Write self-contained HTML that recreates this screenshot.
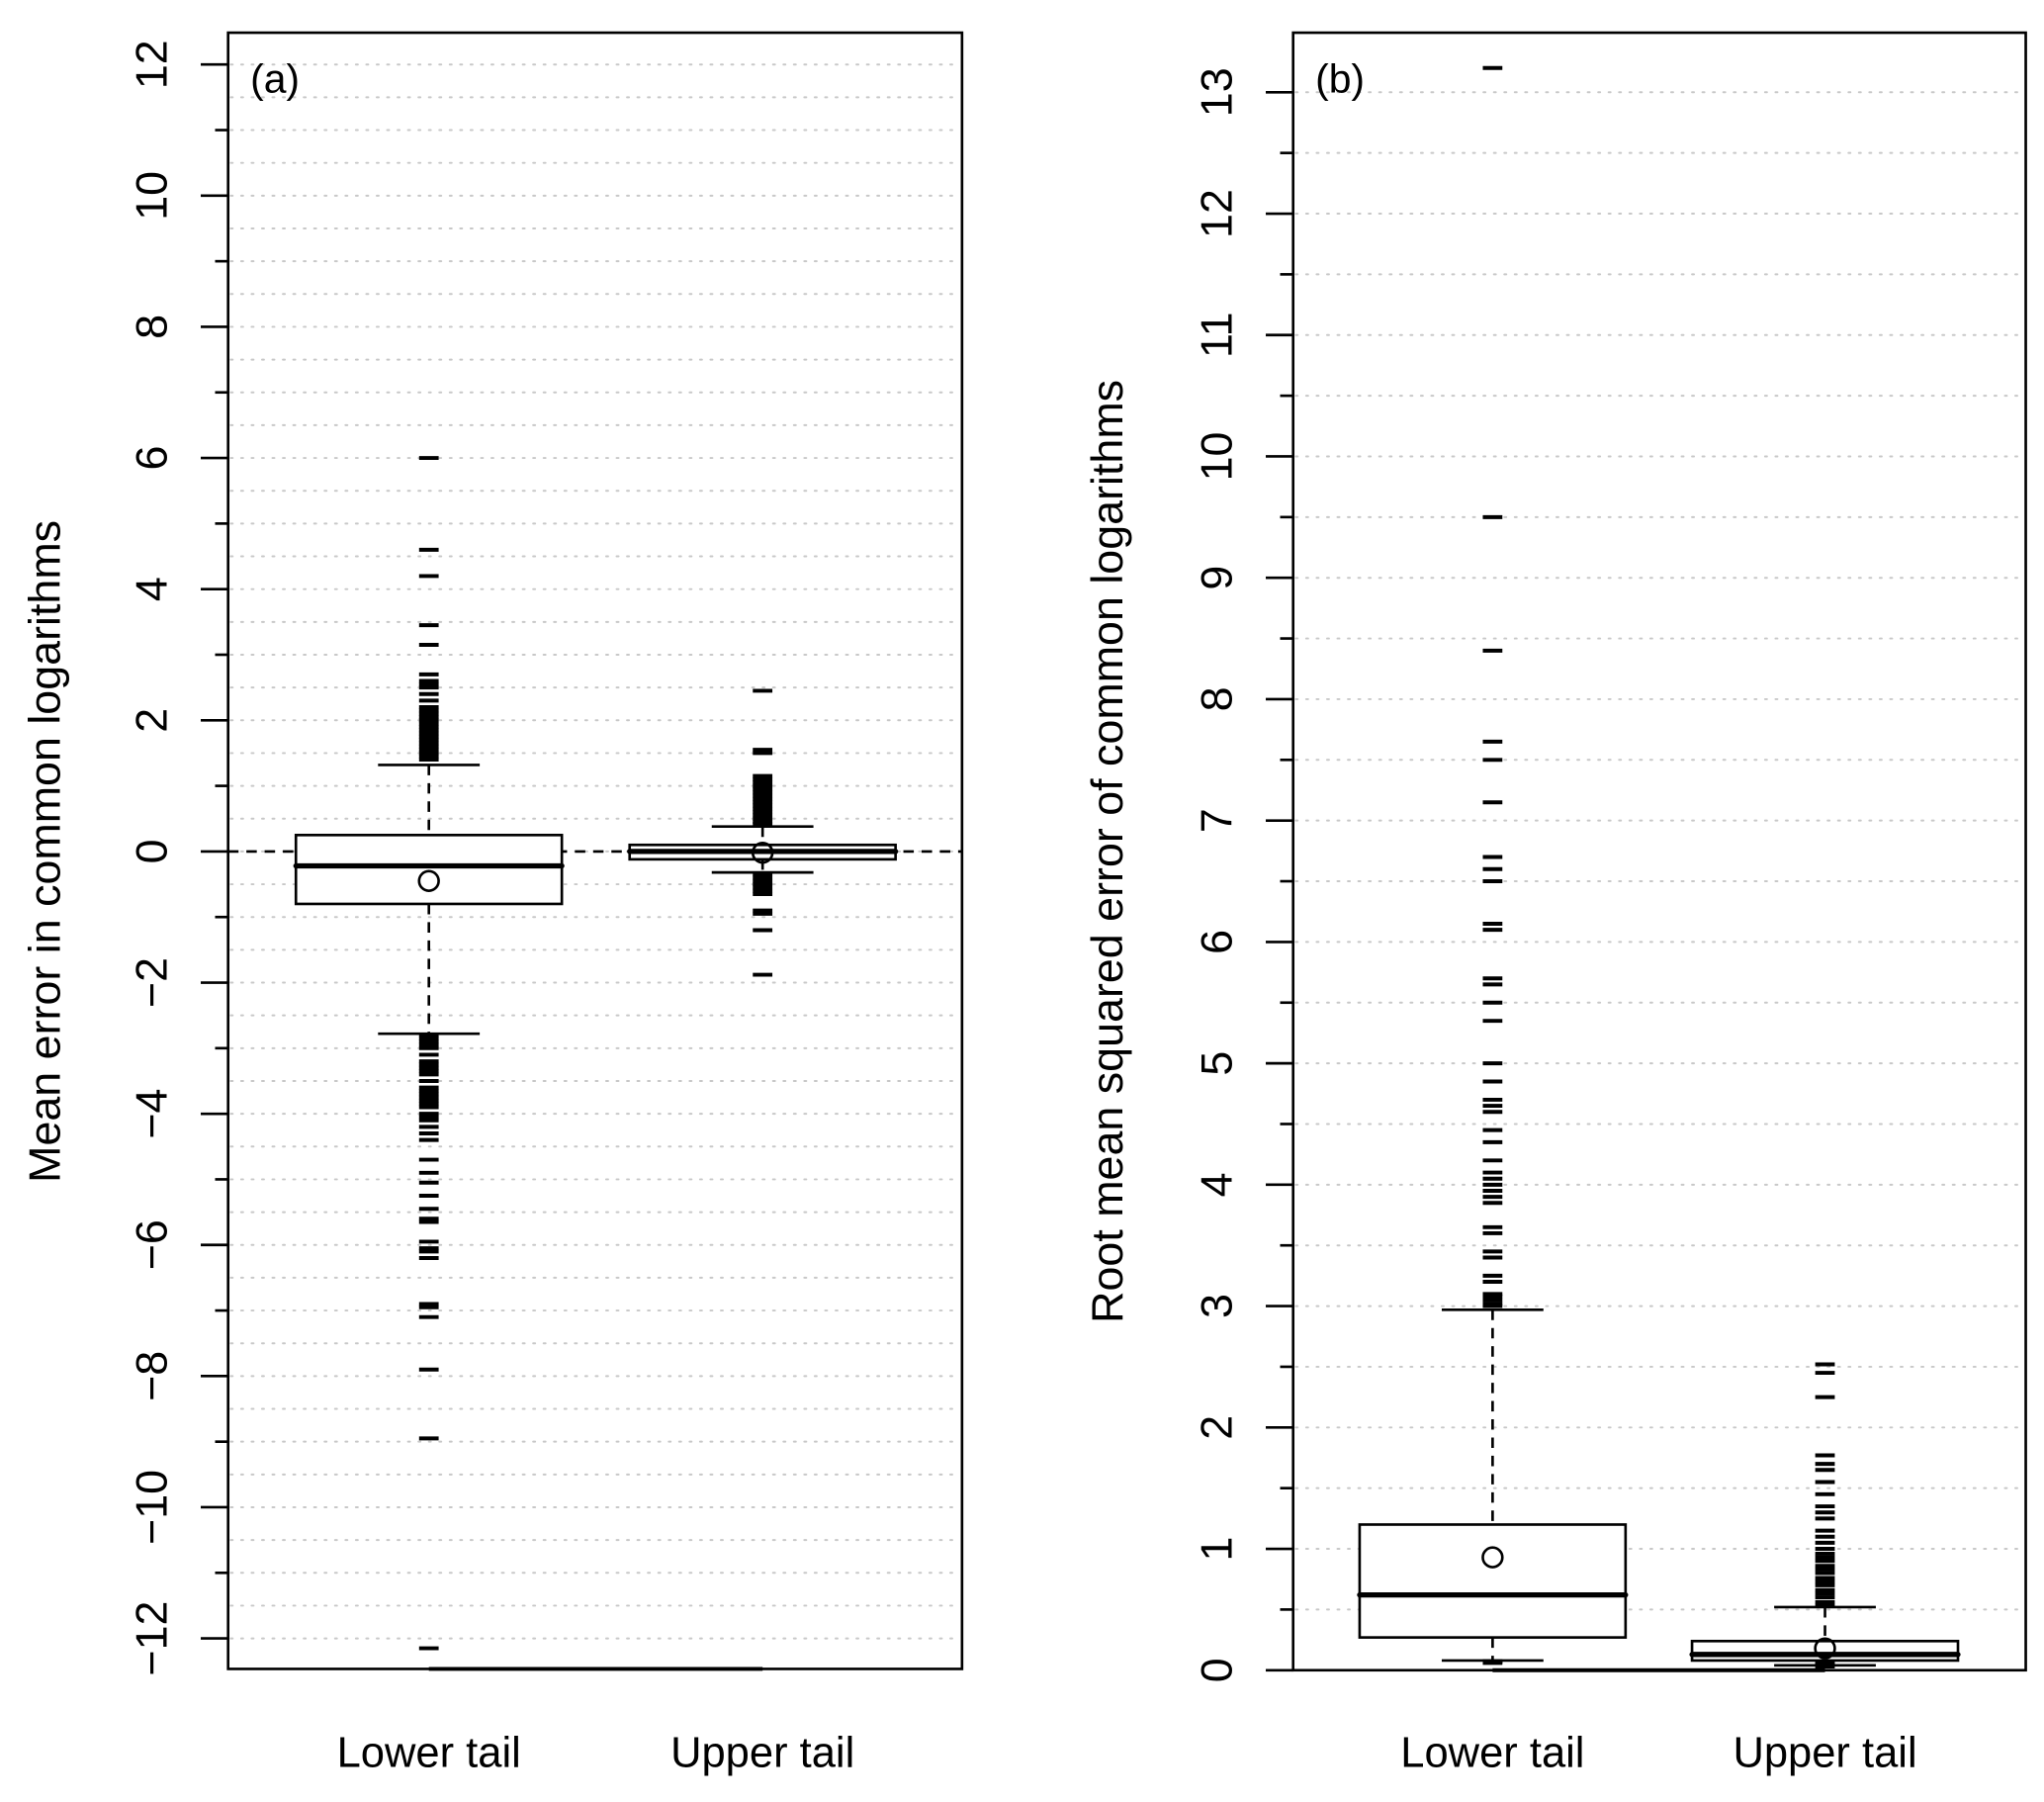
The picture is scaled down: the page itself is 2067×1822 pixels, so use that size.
<!DOCTYPE html>
<html><head><meta charset="utf-8"><style>
html,body{margin:0;padding:0;background:#fff}
svg{display:block}
text{font-family:"Liberation Sans",Arial,sans-serif;fill:#000}
</style></head><body>
<svg id="chart" width="2067" height="1822" viewBox="0 0 1568 1382" xmlns="http://www.w3.org/2000/svg"></svg>
<script>
// ---- Panel (a) data: mean error ----
const categories = ["Lower tail", "Upper tail"];
const aTicks = [-12, -10, -8, -6, -4, -2, 0, 2, 4, 6, 8, 10, 12];
const aLowerStats = [-2.78, -0.8, -0.22, 0.25, 1.32];   // whisker low, Q1, median, Q3, whisker high
const aLowerMean = [-0.45];
const aLowerOut = [1.4,1.45,1.5,1.55,1.6,1.65,1.7,1.75,1.8,1.85,1.9,1.95,2.0,2.05,2.1,2.15,2.2,2.3,2.4,2.5,2.55,2.6,2.7,3.15,3.45,4.2,4.6,6.0,
  -2.8,-2.85,-2.9,-2.95,-3.0,-3.1,-3.2,-3.25,-3.3,-3.35,-3.4,-3.5,-3.6,-3.65,-3.7,-3.75,-3.8,-3.85,-3.9,-4.0,-4.05,-4.1,-4.2,-4.3,-4.4,-4.7,-4.9,-5.05,-5.25,-5.45,-5.6,-5.65,-5.95,-6.05,-6.1,-6.2,-6.9,-6.95,-7.1,-7.9,-8.95,-12.15];
const aUpperStats = [-0.32, -0.12, 0.0, 0.1, 0.38];
const aUpperMean = [-0.02];
const aUpperOut = [0.42,0.45,0.5,0.55,0.6,0.65,0.7,0.75,0.8,0.85,0.9,0.95,1.0,1.05,1.1,1.15,1.5,1.55,2.45,
  -0.35,-0.4,-0.45,-0.5,-0.55,-0.6,-0.65,-0.9,-0.95,-1.2,-1.88];
// ---- Panel (b) data: RMSE ----
const bTicks = [0,1,2,3,4,5,6,7,8,9,10,11,12,13];
const bLowerStats = [0.08, 0.27, 0.62, 1.2, 2.97];
const bLowerMean = [0.93];
const bLowerOut = [0.06,0.07,0.075,3.0,3.02,3.05,3.08,3.1,3.2,3.25,3.4,3.45,3.6,3.65,3.85,3.9,3.95,4.0,4.05,4.1,4.2,4.35,4.45,4.6,4.65,4.7,4.85,5.0,5.35,5.5,5.65,5.7,6.1,6.15,6.5,6.6,6.7,7.15,7.5,7.65,8.4,9.5,13.2];
const bUpperStats = [0.04, 0.08, 0.13, 0.24, 0.52];
const bUpperMean = [0.18];
const bUpperOut = [0.03,0.05,0.06,0.53,0.56,0.6,0.63,0.66,0.7,0.73,0.76,0.8,0.83,0.86,0.9,0.93,0.96,1.0,1.05,1.1,1.15,1.25,1.3,1.35,1.45,1.55,1.65,1.7,1.77,2.25,2.45,2.52];

const NS = "http://www.w3.org/2000/svg";
const svg = document.getElementById("chart");
function mk(tag, attrs, parent) {
  const e = document.createElementNS(NS, tag);
  for (const k in attrs) e.setAttribute(k, attrs[k]);
  (parent || svg).appendChild(e);
  return e;
}

function panel(cfg) {
  const g = mk("g", {});
  
  
  const y = v => cfg.y0 - (v - cfg.v0) * cfg.unit;
  const L = cfg.left, R = cfg.right, T = 25, B = cfg.bottom;
  for (let v = cfg.gmin; v <= cfg.gmax + 1e-9; v += 0.5) {
    const gl = mk("line", {x1: L + 2, x2: R - 2, y1: y(v), y2: y(v), stroke: "#c8c8c8", "stroke-width": 1.5, "stroke-dasharray": "1.5 6.5", "stroke-linecap": "round"}, g);
    
    
  }
  for (let v = cfg.gmin; v <= cfg.gmax + 1e-9; v += cfg.minorStep) {
    const labeled = cfg.ticks.some(t => Math.abs(t - v) < 1e-9);
    const tk = mk("line", {x1: L - (labeled ? 21 : 10), x2: L, y1: y(v), y2: y(v), stroke: "#000", "stroke-width": 2}, g);
    
    
  }
  cfg.ticks.forEach(t => {
    const tx = mk("text", {x: 0, y: 0, "font-size": 34, "text-anchor": "middle", transform: `translate(${L - 47},${y(t)}) rotate(-90)`}, g);
    tx.textContent = t < 0 ? "\u2212" + Math.abs(t) : String(t);
    
    
  });
  if (cfg.zeroLine) {
    const zl = mk("line", {x1: L, x2: R, y1: y(0), y2: y(0), stroke: "#000", "stroke-width": 2, "stroke-dasharray": "8 6"}, g);
    
    
  }
  cfg.series.forEach((s, i) => {
    const cx = cfg.cx[i], hw = 102, cw = 39;
    const st = s.stats;
    const bg = mk("g", {}, g);
    
    
    mk("line", {x1: cx, x2: cx, y1: y(st[4]), y2: y(st[3]), stroke: "#000", "stroke-width": 2, "stroke-dasharray": "8 6"}, bg);
    mk("line", {x1: cx, x2: cx, y1: y(st[1]), y2: y(st[0]), stroke: "#000", "stroke-width": 2, "stroke-dasharray": "8 6"}, bg);
    mk("line", {x1: cx - cw, x2: cx + cw, y1: y(st[4]), y2: y(st[4]), stroke: "#000", "stroke-width": 2}, bg);
    mk("line", {x1: cx - cw, x2: cx + cw, y1: y(st[0]), y2: y(st[0]), stroke: "#000", "stroke-width": 2}, bg);
    mk("rect", {x: cx - hw, y: y(st[3]), width: 2 * hw, height: y(st[1]) - y(st[3]), fill: "#fff", stroke: "#000", "stroke-width": 2}, bg);
    mk("line", {x1: cx - hw, x2: cx + hw, y1: y(st[2]), y2: y(st[2]), stroke: "#000", "stroke-width": 4, "stroke-linecap": "round"}, bg);
    s.out.forEach(v => {
      const o = mk("line", {x1: cx - 7.5, x2: cx + 7.5, y1: y(v), y2: y(v), stroke: "#000", "stroke-width": 3}, bg);
      
      
    });
    const c = mk("circle", {cx: cx, cy: y(s.mean[0]), r: 7.5, fill: "none", stroke: "#000", "stroke-width": 2}, bg);
    
    
    const lab = mk("text", {x: cx, y: 1355, "font-size": 33, "text-anchor": "middle"}, g);
    lab.textContent = categories[i];
    
    
  });
  const fr = mk("rect", {x: L, y: T, width: R - L, height: B - T, fill: "none", stroke: "#000", "stroke-width": 2}, g);
  
  
  const xa = mk("line", {x1: cfg.cx[0], x2: cfg.cx[1], y1: B, y2: B, stroke: "#000", "stroke-width": 3}, g);
  
  
  const pl = mk("text", {x: L + 17, y: 71, "font-size": 31}, g);
  pl.textContent = cfg.label;
  
  
  const yt = mk("text", {x: 0, y: 0, "font-size": 34, "text-anchor": "middle", transform: `translate(${cfg.titleX},653) rotate(-90)`}, g);
  yt.textContent = cfg.title;
  
  
}

panel({name: "panel-a", label: "(a)", left: 175, right: 738, bottom: 1280, y0: 653, v0: 0, unit: 50.3,
  gmin: -12, gmax: 12, minorStep: 1, ticks: aTicks, zeroLine: true, cx: [329, 585], titleX: 46,
  title: "Mean error in common logarithms",
  series: [{stats: aLowerStats, mean: aLowerMean, out: aLowerOut}, {stats: aUpperStats, mean: aUpperMean, out: aUpperOut}]});
panel({name: "panel-b", label: "(b)", left: 992, right: 1554, bottom: 1281, y0: 1281, v0: 0, unit: 93.1,
  gmin: 0, gmax: 13, minorStep: 0.5, ticks: bTicks, zeroLine: false, cx: [1145, 1400], titleX: 861,
  title: "Root mean squared error of common logarithms",
  series: [{stats: bLowerStats, mean: bLowerMean, out: bLowerOut}, {stats: bUpperStats, mean: bUpperMean, out: bUpperOut}]});
</script>
</body></html>
